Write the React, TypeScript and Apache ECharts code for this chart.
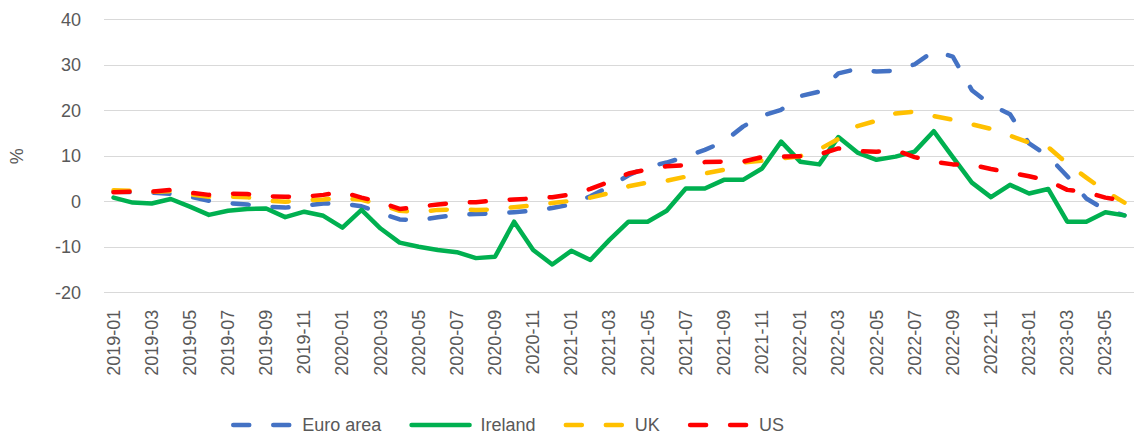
import React, { useEffect, useRef } from "react";
import * as echarts from "echarts";

const months = [
  "2019-01","2019-02","2019-03","2019-04","2019-05","2019-06","2019-07","2019-08","2019-09","2019-10","2019-11","2019-12",
  "2020-01","2020-02","2020-03","2020-04","2020-05","2020-06","2020-07","2020-08","2020-09","2020-10","2020-11","2020-12",
  "2021-01","2021-02","2021-03","2021-04","2021-05","2021-06","2021-07","2021-08","2021-09","2021-10","2021-11","2021-12",
  "2022-01","2022-02","2022-03","2022-04","2022-05","2022-06","2022-07","2022-08","2022-09","2022-10","2022-11","2022-12",
  "2023-01","2023-02","2023-03","2023-04","2023-05","2023-06",
];

const euroArea = [
  2.2, 2.1, 2.0, 1.7, 1.1, 0.2, -0.3, -0.6, -1.1, -1.3,
  -0.9, -0.4, -0.4, -1.0, -2.5, -3.9, -4.1, -3.4, -2.9, -2.7,
  -2.6, -2.3, -2.0, -1.4, -0.6, 1.2, 3.3, 5.8, 7.7, 8.6,
  9.9, 11.4, 13.2, 16.5, 18.9, 20.2, 23.2, 24.2, 28.2, 29.2,
  28.6, 28.8, 30.2, 33.1, 31.9, 24.5, 21.3, 19.2, 12.8, 10.0,
  5.6, 0.7, -1.8, -3.0,
];

const ireland = [
  0.9, -0.2, -0.4, 0.6, -1.1, -2.9, -2.0, -1.6, -1.5, -3.4,
  -2.2, -3.1, -5.7, -1.8, -5.9, -9.0, -9.9, -10.6, -11.1, -12.4,
  -12.1, -4.4, -10.6, -13.8, -10.8, -12.8, -8.4, -4.4, -4.4, -2.0,
  2.9, 2.9, 4.8, 4.8, 7.3, 13.2, 8.8, 8.2, 14.2, 10.8,
  9.2, 9.9, 11.0, 15.5, 9.8, 4.2, 1.0, 3.7, 1.8, 2.8,
  -4.4, -4.4, -2.3, -3.0,
];

const uk = [
  2.5, 2.4, 2.2, 2.3, 1.6, 1.1, 1.1, 1.0, 0.2, 0.0,
  0.3, 0.5, 0.8, 0.4, -0.6, -2.0, -2.3, -1.8, -1.7, -1.8,
  -1.7, -1.2, -0.8, -0.3, 0.2, 0.9, 1.9, 3.4, 4.2, 4.6,
  5.5, 6.2, 7.0, 8.6, 9.0, 9.5, 10.0, 11.5, 13.8, 16.6,
  17.8, 19.4, 19.8, 18.8, 18.0, 17.0, 16.0, 14.5, 13.0, 12.0,
  8.4, 5.3, 2.3, -0.2,
];

const us = [
  2.1, 2.2, 2.2, 2.6, 2.0, 1.5, 1.8, 1.7, 1.2, 1.1,
  1.1, 1.5, 2.1, 0.9, -0.1, -1.6, -1.1, -0.6, -0.2, -0.1,
  0.3, 0.5, 0.7, 1.0, 1.6, 2.8, 4.4, 6.2, 7.1, 7.8,
  8.0, 8.7, 8.8, 8.8, 9.8, 9.9, 10.0, 10.4, 11.7, 11.1,
  11.0, 11.3, 9.8, 8.8, 8.2, 8.1, 7.2, 6.4, 5.6, 4.6,
  2.6, 2.1, 0.9, 0.2,
];

const seriesNames = ["Euro area", "Ireland", "UK", "US"];
const seriesColors = ["#4472C4", "#00B050", "#FFC000", "#FF0000"];
const seriesDashed = [true, false, true, true];
const seriesData = [euroArea, ireland, uk, us];

const FONT = "Liberation Sans";
const TEXT_COLOR = "#595959";

export default function App() {
  const ref = useRef<HTMLDivElement>(null);

  useEffect(() => {
    if (!ref.current) return;
    const chart = echarts.init(ref.current, null, { renderer: "svg" });
    chart.setOption({
      animation: false,
      backgroundColor: "#ffffff",
      grid: { left: 99.4, right: -10.8, top: 19.7, bottom: 143.3 },
      legend: {
        left: 231,
        top: 416,
        padding: 0,
        itemWidth: 58,
        itemHeight: 14,
        itemGap: 28,
        itemStyle: { opacity: 0, borderWidth: 0 },
        lineStyle: { width: 4.5, cap: "round" },
        textStyle: {
          fontFamily: FONT,
          fontSize: 18,
          lineHeight: 16,
          color: TEXT_COLOR,
          padding: [0, 0, 0, 6],
        },
        data: seriesNames,
      },
      xAxis: {
        type: "category",
        data: months,
        boundaryGap: true,
        axisLine: { show: false },
        axisTick: { show: false },
        axisLabel: {
          interval: 1,
          rotate: 90,
          margin: 17,
          fontFamily: FONT,
          fontSize: 18,
          color: TEXT_COLOR,
        },
        splitLine: { show: false },
      },
      yAxis: {
        type: "value",
        min: -20,
        max: 40,
        interval: 10,
        name: "%",
        nameLocation: "middle",
        nameRotate: 90,
        nameGap: 78,
        nameTextStyle: { fontFamily: FONT, fontSize: 18, color: TEXT_COLOR },
        axisLine: { show: false },
        axisTick: { show: false },
        axisLabel: { margin: 23, fontFamily: FONT, fontSize: 18, color: TEXT_COLOR },
        splitLine: { lineStyle: { color: "#D9D9D9", width: 1 } },
      },
      series: seriesNames.map((name, k) => ({
        name,
        type: "line",
        data: seriesData[k],
        symbol: "none",
        smooth: false,
        color: seriesColors[k],
        lineStyle: {
          color: seriesColors[k],
          width: 4.5,
          type: seriesDashed[k] ? [16, 24] : "solid",
          cap: "round",
          join: "round",
        },
      })),
    });
    return () => chart.dispose();
  }, []);

  return (
    <div
      ref={ref}
      style={{ position: "fixed", left: 0, top: 0, width: 1134, height: 436 }}
    />
  );
}
